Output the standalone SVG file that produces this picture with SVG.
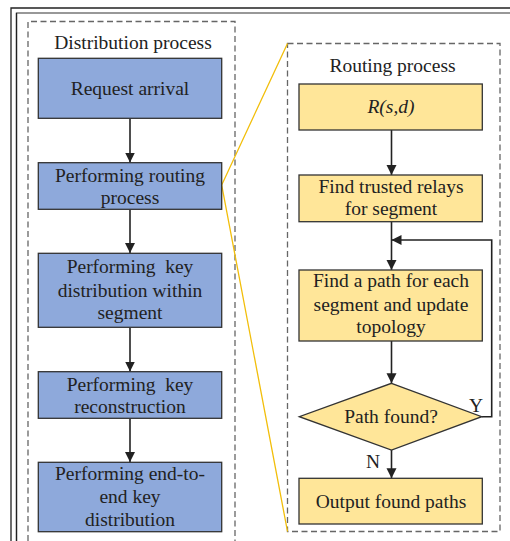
<svg xmlns="http://www.w3.org/2000/svg" width="510" height="541" viewBox="0 0 510 541">
<style>
text{font-family:"Liberation Serif","Times New Roman",serif;font-size:19.5px;fill:#222;text-anchor:middle}
.blue{fill:#8EA9DB;stroke:#333;stroke-width:1.3}
.yel{fill:#FFE699;stroke:#333;stroke-width:1.3}
.dash{fill:none;stroke:#666;stroke-width:1.3;stroke-dasharray:6 3.5}
.conn{fill:none;stroke:#222;stroke-width:1.6}
.zoom{fill:none;stroke:#F2BE0A;stroke-width:1.3}
</style>
<defs>
<marker id="ah" viewBox="0 0 10 10" refX="10" refY="5" markerWidth="10" markerHeight="14" markerUnits="userSpaceOnUse" orient="auto">
<path d="M0,0 L10,5 L0,10 z" fill="#222"/>
</marker>
</defs>
<rect width="510" height="541" fill="#fff"/>
<g id="frame">
<path d="M11,541 V8 H510" fill="none" stroke="#222" stroke-width="1.3"/>
<path d="M16.5,541 V13 H510" fill="none" stroke="#777" stroke-width="1.3"/>
<path d="M16.5,541 V13" fill="none" stroke="#222" stroke-width="1.3"/>
</g>
<g id="distribution-process">
<path class="dash" d="M28,541 V21.5 H235 V541"/>
<text x="133" y="49">Distribution process</text>
</g>
<g id="routing-process">
<rect class="dash" x="287.5" y="43.5" width="212.5" height="488"/>
<text x="392.5" y="72">Routing process</text>
</g>
<g id="connectors">
<path class="zoom" d="M287.5,43.5 L221.7,185 L287.5,531.5"/>
<path class="conn" marker-end="url(#ah)" d="M130,118.5 V162.5"/>
<path class="conn" marker-end="url(#ah)" d="M130,209.5 V253"/>
<path class="conn" marker-end="url(#ah)" d="M130,327.5 V371.5"/>
<path class="conn" marker-end="url(#ah)" d="M130,418.5 V462"/>
<path class="conn" marker-end="url(#ah)" d="M391.5,130 V175"/>
<path class="conn" marker-end="url(#ah)" d="M391.5,221.7 V270"/>
<path class="conn" marker-end="url(#ah)" d="M391.5,341 V383.3"/>
<path class="conn" marker-end="url(#ah)" d="M391.5,450 V478.3"/>
<path class="conn" marker-end="url(#ah)" d="M481.7,416.7 H491.7 V240 H391.5"/>
<text x="476" y="412">Y</text>
<text x="373" y="468">N</text>
</g>
<g id="request-arrival">
<rect class="blue" x="38.3" y="58.3" width="183.4" height="60"/>
<text x="130" y="95">Request arrival</text>
</g>
<g id="performing-routing">
<rect class="blue" x="38.3" y="162.7" width="183.4" height="46.6"/>
<text x="130" y="181.7">Performing routing</text>
<text x="130" y="204">process</text>
</g>
<g id="key-distribution-segment">
<rect class="blue" x="38.3" y="253.3" width="183.4" height="74"/>
<text x="130" y="273.3" style="white-space:pre">Performing  key</text>
<text x="130" y="296.5">distribution within</text>
<text x="130" y="319.3">segment</text>
</g>
<g id="key-reconstruction">
<rect class="blue" x="38.3" y="371.7" width="183.4" height="46.6"/>
<text x="130" y="390.5" style="white-space:pre">Performing  key</text>
<text x="130" y="412.7">reconstruction</text>
</g>
<g id="end-to-end">
<rect class="blue" x="38.3" y="462.3" width="183.4" height="69.4"/>
<text x="130" y="480">Performing end-to-</text>
<text x="130" y="502.7">end key</text>
<text x="130" y="526">distribution</text>
</g>
<g id="rsd">
<rect class="yel" x="299" y="84" width="183.3" height="46"/>
<text x="391" y="113.3" font-style="italic">R(s,d)</text>
</g>
<g id="trusted-relays">
<rect class="yel" x="299" y="175" width="183.3" height="46.7"/>
<text x="391" y="193.3">Find trusted relays</text>
<text x="391" y="215">for segment</text>
</g>
<g id="find-path">
<rect class="yel" x="299" y="270" width="183.3" height="71"/>
<text x="391" y="287.3">Find a path for each</text>
<text x="391" y="311">segment and update</text>
<text x="391" y="333.3">topology</text>
</g>
<g id="path-found">
<polygon class="yel" points="391.5,383.3 481.7,416.7 391.5,450 299.3,416.7"/>
<text x="391" y="422.7">Path found?</text>
</g>
<g id="output">
<rect class="yel" x="299" y="478.3" width="183.3" height="45.7"/>
<text x="391" y="508.3">Output found paths</text>
</g>
</svg>
